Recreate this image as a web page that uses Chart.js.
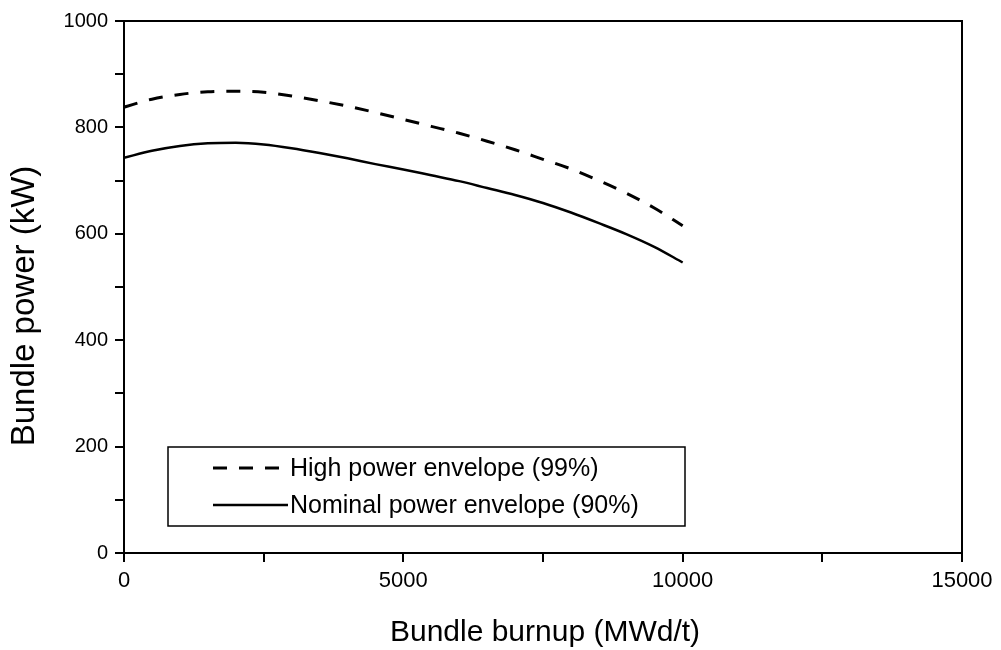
<!DOCTYPE html>
<html><head><meta charset="utf-8">
<script src="https://cdn.jsdelivr.net/npm/chart.js@4"></script>
<style>html,body{margin:0;padding:0;background:#fff;}canvas{display:block;}</style>
</head><body>
<canvas id="c" width="1001" height="650"></canvas>
<script>
const burnup = [0, 500, 1000, 1500, 2000, 2500, 3000, 3500, 4000, 4500, 5000, 5500, 6000, 6500, 7000, 7500, 8000, 8500, 9000, 9500, 10000];
const highPower = [838, 853, 862, 867, 868, 866, 859, 850, 840, 828, 815, 802, 789, 774, 758, 740, 722, 700, 676, 648, 615];
const nominalPower = [743, 756, 765, 770, 771, 768, 761, 752, 742, 731, 721, 710, 699, 686, 673, 658, 640, 620, 599, 575, 546];
const seriesLabels = ["High power envelope (99%)", "Nominal power envelope (90%)"];
const xTitle = "Bundle burnup (MWd/t)";
const yTitle = "Bundle power (kW)";

const FONT = "'Liberation Sans', Arial, sans-serif";
const toXY = arr => burnup.map((x, i) => ({x, y: arr[i]}));

const framePlugin = {
  id: 'frame',
  afterDatasetsDraw(chart) {
    const {ctx, chartArea: a} = chart;
    ctx.save();
    ctx.strokeStyle = '#000';
    ctx.lineWidth = 2;
    ctx.strokeRect(a.left, a.top, a.right - a.left, a.bottom - a.top);
    // legend box
    const bx = a.left + 44, by = 447, bw = 517, bh = 79;
    ctx.lineWidth = 1.5;
    ctx.fillStyle = '#fff';
    ctx.fillRect(bx, by, bw, bh);
    ctx.strokeRect(bx, by, bw, bh);
    const items = [{dash: [14, 12], y: by + 21}, {dash: [], y: by + 58}];
    ctx.font = "25px " + FONT;
    ctx.textBaseline = 'middle';
    ctx.fillStyle = '#000';
    items.forEach((it, i) => {
      ctx.beginPath();
      ctx.setLineDash(it.dash);
      ctx.lineWidth = i === 0 ? 3 : 2.5;
      ctx.moveTo(bx + 45, it.y);
      ctx.lineTo(bx + 120, it.y);
      ctx.stroke();
      ctx.setLineDash([]);
      ctx.fillText(seriesLabels[i], bx + 122, it.y + 1);
    });
    // axis titles
    ctx.textAlign = 'center';
    ctx.font = "30px " + FONT;
    ctx.fillText(xTitle, (a.left + a.right) / 2 + 2, 633);
    ctx.translate(25, 306);
    ctx.rotate(-Math.PI / 2);
    ctx.font = "33px " + FONT;
    ctx.fillText(yTitle, 0, 0);
    ctx.restore();
  }
};

new Chart(document.getElementById('c'), {
  type: 'line',
  data: {
    datasets: [
      {label: seriesLabels[0], data: toXY(highPower), borderColor: '#000', borderWidth: 3, borderDash: [14, 12], pointRadius: 0, cubicInterpolationMode: 'monotone', fill: false},
      {label: seriesLabels[1], data: toXY(nominalPower), borderColor: '#000', borderWidth: 2.5, pointRadius: 0, cubicInterpolationMode: 'monotone', fill: false}
    ]
  },
  options: {
    responsive: false,
    animation: false,
    layout: {padding: {left: 0, right: 39, top: 21, bottom: 0}},
    plugins: {legend: {display: false}, tooltip: {enabled: false}},
    scales: {
      x: {
        type: 'linear', min: 0, max: 15000,
        border: {display: false},
        grid: {drawOnChartArea: false, color: '#000', lineWidth: 2, tickLength: 9},
        ticks: {stepSize: 2500, color: '#000', font: {size: 22, family: FONT}, padding: 6, maxRotation: 0,
          callback: v => (v % 5000 === 0 ? String(v) : '')},
        afterFit: s => { s.height = 97; }
      },
      y: {
        min: 0, max: 1000,
        border: {display: false},
        grid: {drawOnChartArea: false, color: '#000', lineWidth: 2, tickLength: 9},
        ticks: {stepSize: 100, color: '#000', font: {size: 20, family: FONT}, padding: 7,
          callback: v => (v % 200 === 0 ? String(v) : '')},
        afterFit: s => { s.width = 124; }
      }
    }
  },
  plugins: [framePlugin]
});
</script>
</body></html>
